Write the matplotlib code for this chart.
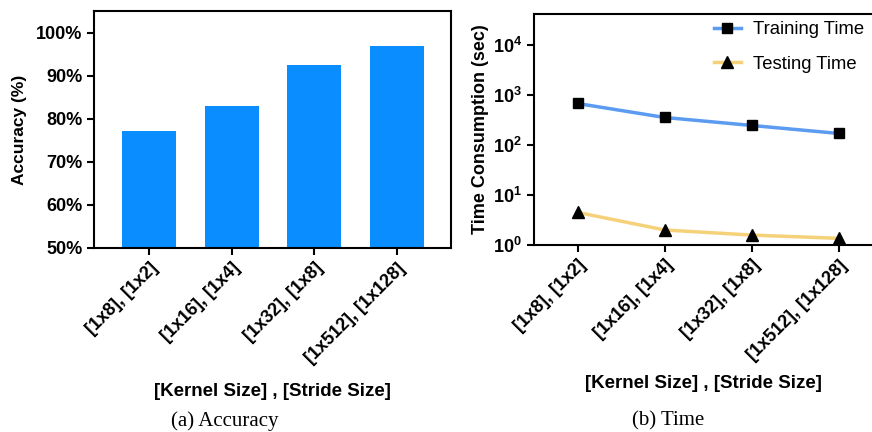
import matplotlib
matplotlib.use("Agg")
import matplotlib.pyplot as plt
import numpy as np

# kernel / stride configurations
configs = ["[1x8], [1x2]", "[1x16], [1x4]", "[1x32], [1x8]", "[1x512], [1x128]"]

# accuracy in percent
accuracy = [77.1, 83.0, 92.4, 96.8]

# time consumption in seconds
train_time = [680, 357, 247, 171]
test_time = [4.5, 2.0, 1.58, 1.36]

acc_ticks = [50, 60, 70, 80, 90, 100]
log_ticks = [1, 10, 100, 1000, 10000]

plt.rcParams['font.family'] = ['Liberation Sans', 'DejaVu Sans']
plt.rcParams['mathtext.fontset'] = 'custom'
plt.rcParams['mathtext.bf'] = 'Liberation Sans:bold'
plt.rcParams['mathtext.rm'] = 'Liberation Sans:bold'

fig = plt.figure(figsize=(8.72, 4.32), dpi=100)

ax1 = fig.add_axes([94/872, 184/432, 357/872, 237/432])
ax2 = fig.add_axes([534/872, 187/432, 338/872, 231/432])

x = np.arange(len(configs))

# (a) accuracy bars
ax1.bar(x, accuracy, width=0.655, color='#0A8EFF', zorder=2)
ax1.set_xlim(-0.667, 3.66)
ax1.set_ylim(50, 105)
ax1.set_yticks(acc_ticks)
ax1.set_yticklabels([f"{t}%" for t in acc_ticks])
ax1.set_ylabel("Accuracy (%)", fontsize=12.5, fontweight='bold', labelpad=6)

# (b) time lines, log scale
ax2.plot(x, train_time, color='#5B9BF0', lw=2.5, marker='s', ms=7.5,
         mfc='black', mec='black', label='Training Time')
ax2.plot(x, test_time, color='#F5D27A', lw=2.5, marker='^', ms=8,
         mfc='black', mec='black', label='Testing Time')
ax2.set_yscale('log')
ax2.set_xlim(-0.5, 3.385)
ax2.set_ylim(1, 42000)
ax2.set_yticks(log_ticks)
ax2.set_yticklabels([r'$\mathbf{10^{%d}}$' % int(np.log10(t)) for t in log_ticks])
ax2.minorticks_off()
ax2.set_ylabel("Time Consumption (sec)", fontsize=13, fontweight='bold', labelpad=3)
ax2.spines['right'].set_visible(False)
leg = ax2.legend(loc='upper right', frameon=False, fontsize=13.3, handlelength=1.45,
                 handletextpad=0.7, labelspacing=0.95, borderaxespad=0.0,
                 bbox_to_anchor=(1.0, 1.0))

for ax in (ax1, ax2):
    ax.set_xticks(x)
    ax.set_xticklabels(configs, rotation=45, ha='right', rotation_mode='anchor')
    ax.tick_params(axis='both', which='major', direction='out', length=5, width=1.5,
                   labelsize=13)
    for lbl in ax.get_xticklabels() + ax.get_yticklabels():
        lbl.set_fontweight('bold')
    for sp in ax.spines.values():
        sp.set_linewidth(1.5)

ax1.set_xlabel("[Kernel Size] , [Stride Size]", fontsize=13.5, fontweight='bold', labelpad=12)
ax2.set_xlabel("[Kernel Size] , [Stride Size]", fontsize=13.5, fontweight='bold', labelpad=8)

# sub-captions
fig.text(225/872, 1 - 421/432, "(a) Accuracy", ha='center', va='center',
         fontsize=15, family='Liberation Serif')
fig.text(668/872, 1 - 421/432, "(b) Time", ha='center', va='center',
         fontsize=15, family='Liberation Serif')

fig.savefig("out.png", dpi=100)
